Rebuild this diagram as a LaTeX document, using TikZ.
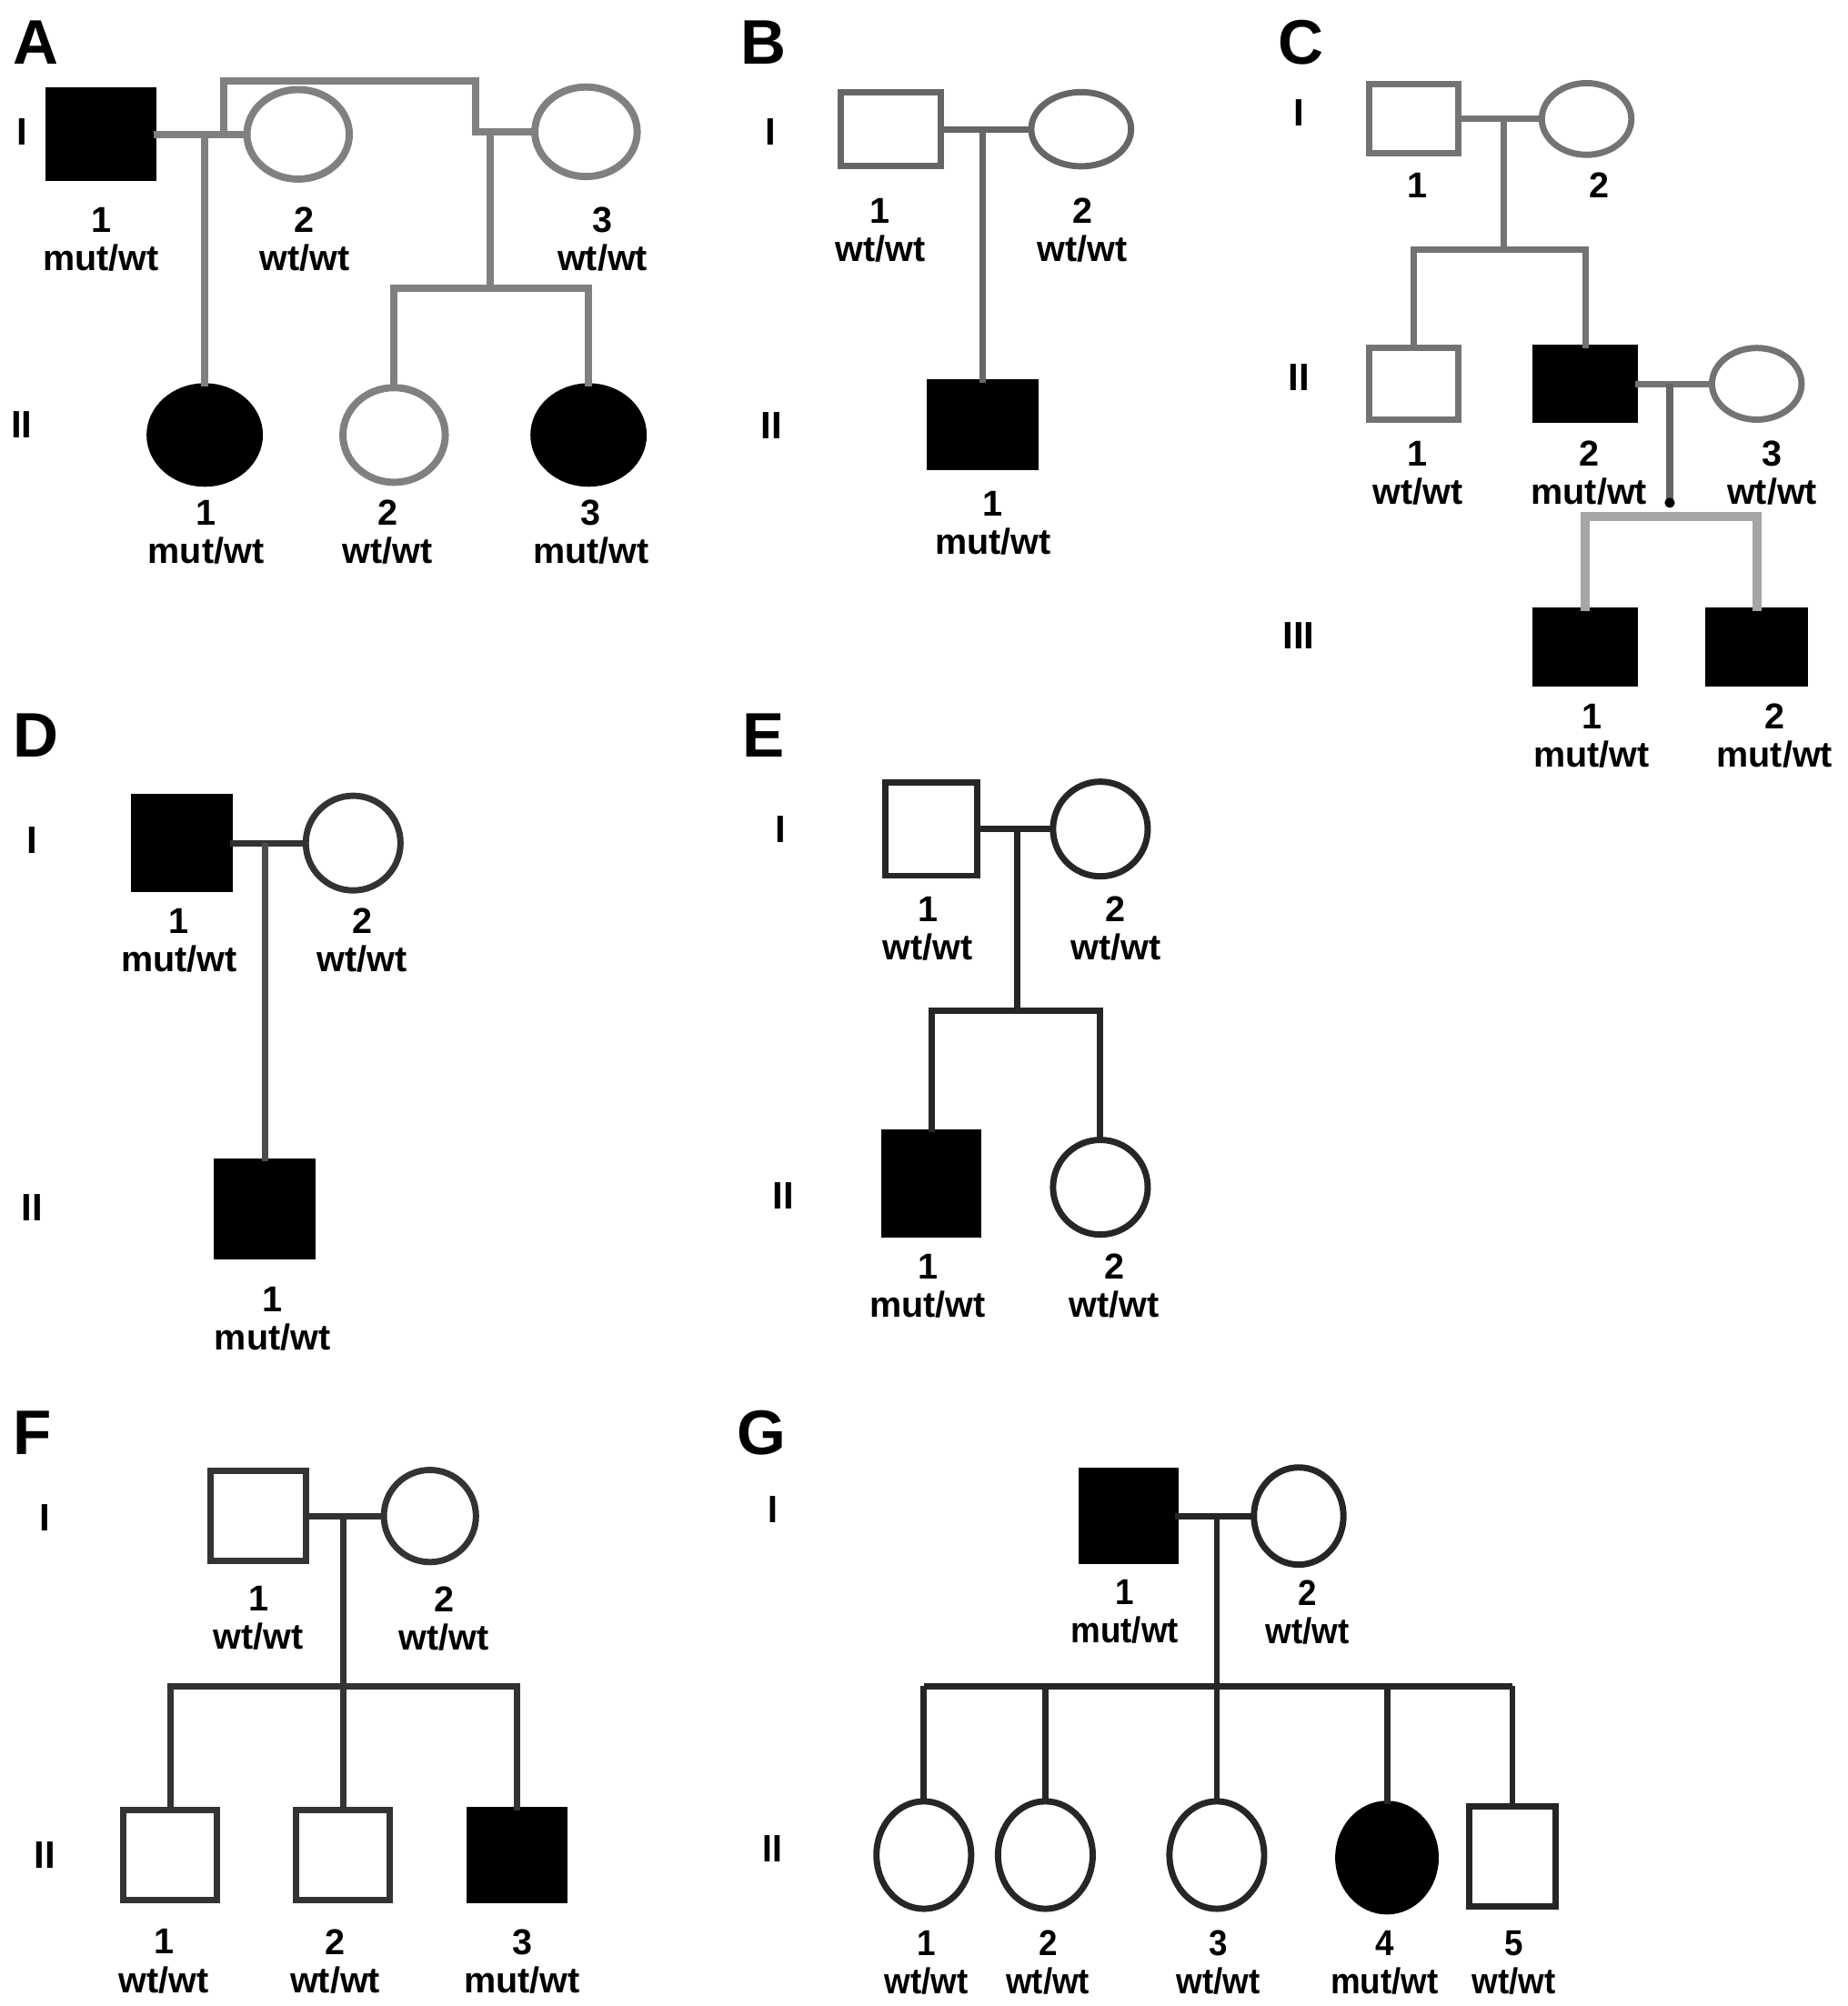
\documentclass[tikz,border=0pt]{standalone}
\usepackage{fontspec}
\setmainfont{Liberation Sans}
\newfontfamily\narrowfont[FakeStretch=0.93]{Liberation Sans}
\usetikzlibrary{shapes.geometric,calc}

\begin{document}
\begin{tikzpicture}[
    x=0.02cm, y=-0.02cm,
    font=\fontsize{16}{17}\selectfont\bfseries,
    ped/.style={line width=2.8pt, inner sep=0pt, outer sep=0pt},
    sq/.style 2 args={ped, draw, rectangle, minimum width=#1*0.02cm, minimum height=#2*0.02cm},
    ov/.style 2 args={ped, draw, ellipse, minimum width=#1*0.02cm, minimum height=#2*0.02cm},
    aff/.style={fill=black, draw=black},
    lnk/.style={line width=2.8pt},
    lab/.style={align=center, inner sep=0pt},
    gen/.style={font=\fontsize{17}{17}\selectfont\bfseries, inner sep=0pt},
    panel/.style={font=\fontsize{28}{28}\selectfont\bfseries, inner sep=0pt}
]
\fill[white] (0,0) rectangle (1444,1568);
\useasboundingbox (0,0) rectangle (1444,1568);

% panel A
\node[panel] (pA) at (28,33) {A};
\node[gen] (gA1) at (17,103) {I};
\node[gen] (gA2) at (17,332) {II};
\node[sq={82}{68}, aff] (a1) at (79,105) {};
\node[ov={80}{70}, draw=black!50, line width=3.2pt] (a2) at (233,105) {};
\node[ov={80}{70}, draw=black!50, line width=3.2pt] (a3) at (458,103) {};
\node[ov={86}{76}, aff] (a4) at (160,340) {};
\node[ov={80}{74}, draw=black!50, line width=3.2pt] (a5) at (308,340) {};
\node[ov={86}{76}, aff] (a6) at (460,340) {};
\coordinate (aj) at (175,105);
\coordinate (ad) at (160,105);
\coordinate (ad2) at (383,103);
\coordinate (as) at (383,225);
\draw[lnk, black!50, line width=3.2pt] (a1) -- (a2);
\draw[lnk, black!50, line width=3.2pt] (aj) -- (175,63) -- (372,63) -- (372,103) -- (a3.west);
\draw[lnk, black!50, line width=3.2pt] (ad) -- (a4.north);
\draw[lnk, black!50, line width=3.2pt] (ad2) -- (as);
\draw[lnk, black!50, line width=3.2pt] (a5.north) -- (a5.north |- as) -- (a6.north |- as) -- (a6.north);
\node[lab] (a1l) at (79,187) {1\\mut/wt};
\node[lab] (a2l) at (238,187) {2\\wt/wt};
\node[lab] (a3l) at (471,187) {3\\wt/wt};
\node[lab] (a4l) at (161,416) {1\\mut/wt};
\node[lab] (a5l) at (303,416) {2\\wt/wt};
\node[lab] (a6l) at (462,416) {3\\mut/wt};

% panel B
\node[panel] (pB) at (597,33) {B};
\node[gen] (gB1) at (602,103) {I};
\node[gen] (gB2) at (603,333) {II};
\node[sq={78}{58}, draw=black!60] (b1) at (696,101) {};
\node[ov={78}{58}, draw=black!60] (b2) at (845,101) {};
\node[sq={82}{66}, aff] (b3) at (768,332) {};
\coordinate (bd) at (768,101);
\draw[lnk, black!60] (b1) -- (b2);
\draw[lnk, black!60] (bd) -- (b3.north);
\node[lab] (b1l) at (688,180) {1\\wt/wt};
\node[lab] (b2l) at (846,180) {2\\wt/wt};
\node[lab] (b3l) at (776,409) {1\\mut/wt};

% panel C
\node[panel] (pC) at (1017,33) {C};
\node[gen] (gC1) at (1015,88) {I};
\node[gen] (gC2) at (1015,295) {II};
\node[gen] (gC3) at (1015,497) {III};
\node[sq={70}{54}, draw=black!55] (c1) at (1105,93) {};
\node[ov={70}{56}, draw=black!55] (c2) at (1240,93) {};
\node[sq={70}{56}, draw=black!55] (c3) at (1105,300) {};
\node[sq={78}{56}, aff] (c4) at (1239,300) {};
\node[ov={70}{56}, draw=black!55] (c5) at (1373,300) {};
\node[sq={78}{57}, aff] (c6) at (1239,506) {};
\node[sq={75}{57}, aff] (c7) at (1373,506) {};
\coordinate (cd) at (1175,93);
\coordinate (cs) at (1175,195);
\coordinate (cd2) at (1305,300);
\coordinate (ce2) at (1305,393);
\coordinate (cs2) at (1305,404);
\draw[lnk, black!55] (c1) -- (c2);
\draw[lnk, black!55] (cd) -- (cs);
\draw[lnk, black!55] (c3.north) -- (c3.north |- cs) -- (c4.north |- cs) -- (c4.north);
\draw[lnk, black!55] (c4) -- (c5);
\draw[lnk, black!60, line width=3.6pt] (cd2) -- (ce2);
\fill[black] (ce2) circle (4);
\draw[lnk, black!35, line width=4pt] (c6.north) -- (c6.north |- cs2) -- (c7.north |- cs2) -- (c7.north);
\node[lab] (c1l) at (1108,145) {1};
\node[lab] (c2l) at (1250,145) {2};
\node[lab] (c3l) at (1108,370) {1\\wt/wt};
\node[lab] (c4l) at (1242,370) {2\\mut/wt};
\node[lab] (c5l) at (1385,370) {3\\wt/wt};
\node[lab] (c6l) at (1244,575) {1\\mut/wt};
\node[lab] (c7l) at (1387,575) {2\\mut/wt};

% panel D
\node[panel] (pD) at (28,575) {D};
\node[gen] (gD1) at (25,657) {I};
\node[gen] (gD2) at (25,944) {II};
\node[sq={75}{72}, aff] (d1) at (142,659) {};
\node[ov={74}{74}, draw=black!80] (d2) at (276,659) {};
\node[sq={75}{74}, aff] (d3) at (207,945) {};
\coordinate (dd) at (207,659);
\draw[lnk, black!80] (d1) -- (d2);
\draw[lnk, black!70] (dd) -- (d3.north);
\node[lab] (d1l) at (140,735) {1\\mut/wt};
\node[lab] (d2l) at (283,735) {2\\wt/wt};
\node[lab] (d3l) at (213,1031) {1\\mut/wt};

% panel E
\node[panel] (pE) at (597,575) {E};
\node[gen] (gE1) at (610,648) {I};
\node[gen] (gE2) at (612,935) {II};
\node[sq={72}{73}, draw=black!85] (e1) at (728,648) {};
\node[ov={74}{74}, draw=black!85] (e2) at (860,648) {};
\node[sq={73}{80}, aff] (e3) at (728,925) {};
\node[ov={74}{74}, draw=black!85] (e4) at (860,928) {};
\coordinate (ed) at (795,648);
\coordinate (es) at (795,790);
\draw[lnk, black!85] (e1) -- (e2);
\draw[lnk, black!85] (ed) -- (es);
\draw[lnk, black!85] (e3.north) -- (e3.north |- es) -- (e4.north |- es) -- (e4.north);
\node[lab] (e1l) at (725,726) {1\\wt/wt};
\node[lab] (e2l) at (872,726) {2\\wt/wt};
\node[lab] (e3l) at (725,1005) {1\\mut/wt};
\node[lab] (e4l) at (871,1005) {2\\wt/wt};

% panel F
\node[panel] (pF) at (25,1120) {F};
\node[gen] (gF1) at (35,1186) {I};
\node[gen] (gF2) at (35,1450) {II};
\node[sq={75}{70}, draw=black!80] (f1) at (202,1185) {};
\node[ov={72}{72}, draw=black!80] (f2) at (336,1185) {};
\node[sq={73}{70}, draw=black!80] (f3) at (133,1450) {};
\node[sq={73}{70}, draw=black!80] (f4) at (268,1450) {};
\node[sq={74}{70}, aff] (f5) at (404,1450) {};
\coordinate (fd) at (268,1185);
\coordinate (fs) at (268,1318);
\draw[lnk, black!80] (f1) -- (f2);
\draw[lnk, black!80] (fd) -- (f4.north);
\draw[lnk, black!80] (f3.north) -- (f3.north |- fs) -- (f5.north |- fs) -- (f5.north);
\node[lab] (f1l) at (202,1265) {1\\wt/wt};
\node[lab] (f2l) at (347,1265) {2\\wt/wt};
\node[lab] (f3l) at (128,1533) {1\\wt/wt};
\node[lab] (f4l) at (262,1533) {2\\wt/wt};
\node[lab] (f5l) at (408,1533) {3\\mut/wt};

% panel G
\node[panel] (pG) at (595,1120) {G};
\node[gen, font=\fontsize{17}{17}\narrowfont\bfseries] (gG1) at (604,1180) {I};
\node[gen, font=\fontsize{17}{17}\narrowfont\bfseries] (gG2) at (604,1445) {II};
\node[sq={73}{70}, aff] (g1) at (882,1185) {};
\node[ov={70}{76}, draw=black!85] (g2) at (1015,1185) {};
\node[ov={74}{84}, draw=black!85] (g3) at (722,1450) {};
\node[ov={74}{84}, draw=black!85] (g4) at (817,1450) {};
\node[ov={74}{84}, draw=black!85] (g5) at (951,1450) {};
\node[ov={76}{84}, aff] (g6) at (1084,1452) {};
\node[sq={67}{78}, draw=black!85] (g7) at (1182,1451) {};
\coordinate (gd) at (951,1185);
\coordinate (gs) at (951,1318);
\draw[lnk, black!85] (g1) -- (g2);
\draw[lnk, black!85] (gd) -- (gs);
\draw[lnk, black!85] (g3.north |- gs) -- (g7.north |- gs);
\foreach \n in {g3,g4,g5,g6,g7}
  \draw[lnk, black!85] (\n.north |- gs) -- (\n.north);
\begin{scope}[every node/.append style={font=\fontsize{16}{17}\narrowfont\bfseries}]
\node[lab] (g1l) at (879,1260) {1\\mut/wt};
\node[lab] (g2l) at (1022,1260) {2\\wt/wt};
\node[lab] (g3l) at (724,1534) {1\\wt/wt};
\node[lab] (g4l) at (819,1534) {2\\wt/wt};
\node[lab] (g5l) at (952,1534) {3\\wt/wt};
\node[lab] (g6l) at (1082,1534) {4\\mut/wt};
\node[lab] (g7l) at (1183,1534) {5\\wt/wt};
\end{scope}
\end{tikzpicture}
\end{document}
